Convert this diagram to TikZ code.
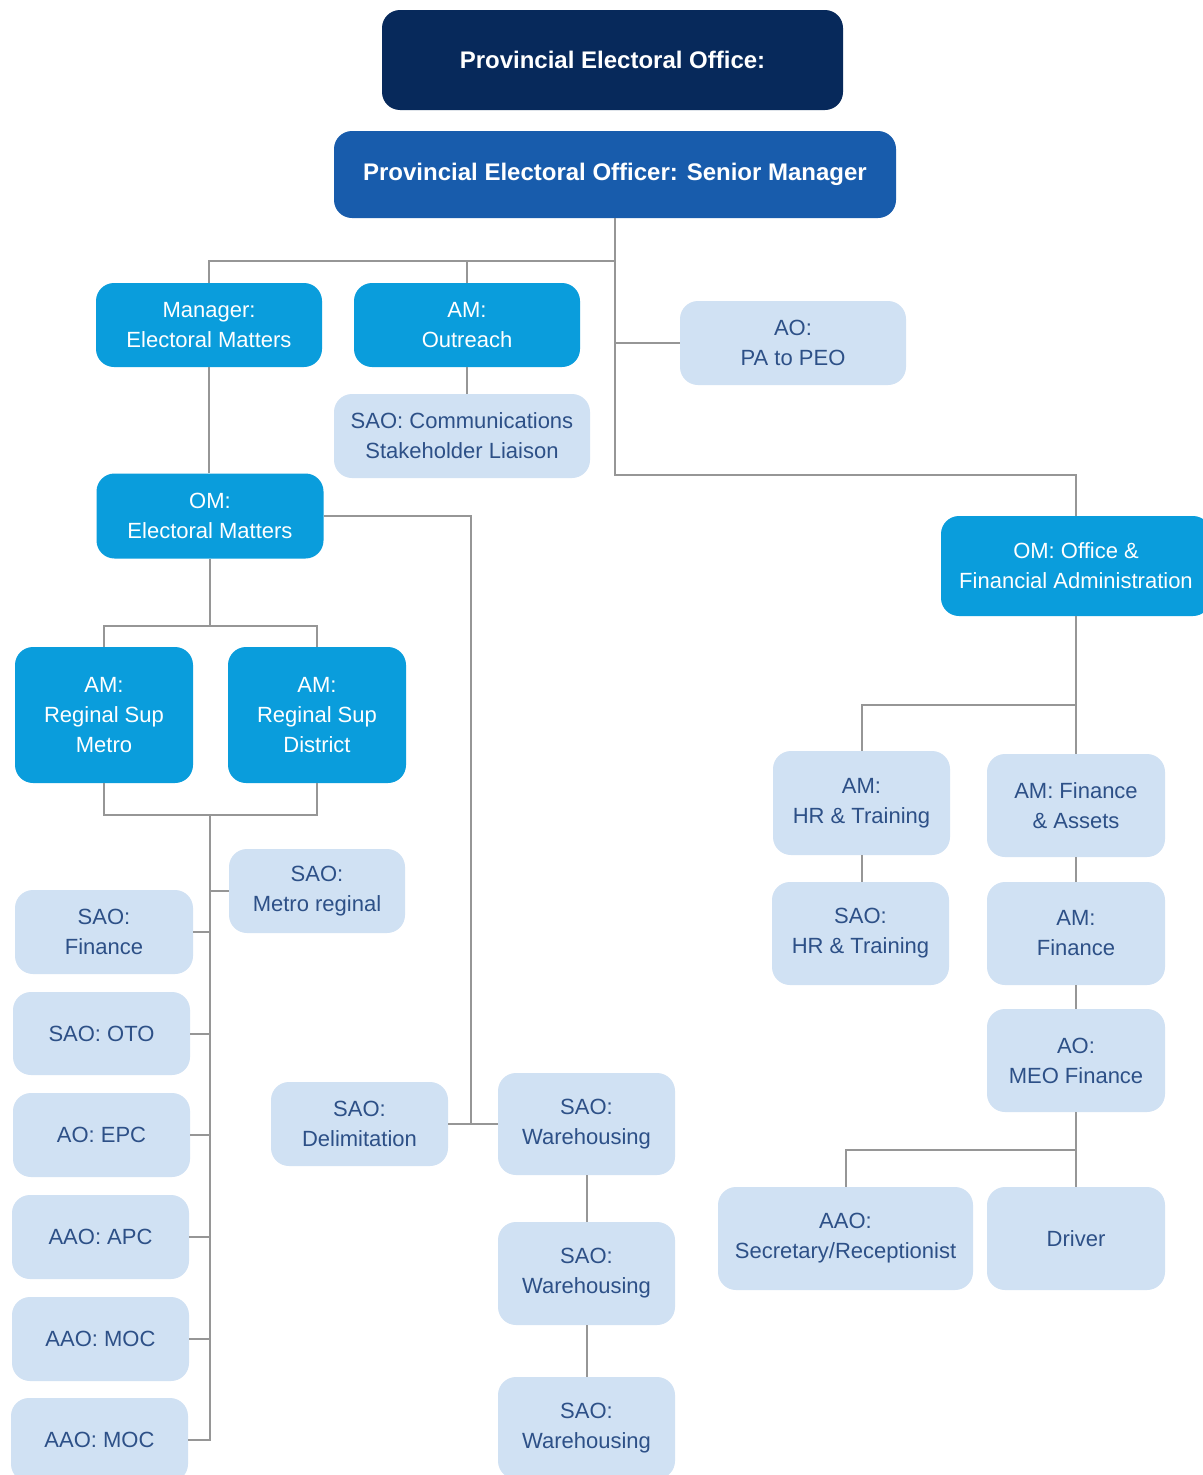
\documentclass[tikz,border=0pt]{standalone}
\usepackage{fontspec}
\setmainfont{Liberation Sans}
\definecolor{navy}{RGB}{7,41,91}
\definecolor{midblue}{RGB}{24,92,172}
\definecolor{bright}{RGB}{10,157,220}
\definecolor{lightbox}{RGB}{208,225,243}
\definecolor{lighttext}{RGB}{45,80,135}
\definecolor{linegray}{RGB}{150,150,150}
\begin{document}
\begin{tikzpicture}[x=1pt,y=-1pt,
  box/.style={rounded corners=18pt, inner sep=0pt, align=center, font=\fontsize{22}{30}\selectfont},
  sz/.style 2 args={minimum width=#1, minimum height=#2},
  navybox/.style={box, fill=navy, text=white, font=\bfseries\fontsize{24}{30}\selectfont},
  midbox/.style={box, fill=midblue, text=white, font=\bfseries\fontsize{24}{30}\selectfont},
  brightbox/.style={box, fill=bright, text=white},
  lbox/.style={box, fill=lightbox, text=lighttext},
  conn/.style={draw=linegray, line width=2pt}]
\useasboundingbox (0,0) rectangle (1202,1475);
\fill[white] (0,0) rectangle (1202,1475);

% top
\node[navybox, sz={461}{100}] (peo) at (612.5,60) {Provincial Electoral Office:};
\node[midbox, sz={562}{87}] (sm) at (615,174.5) {Provincial Electoral Officer: Senior Manager};

% second level
\node[brightbox, sz={226}{84}] (mgr) at (209,325) {Manager:\\Electoral Matters};
\node[brightbox, sz={226}{84}] (amo) at (467,325) {AM:\\Outreach};
\node[lbox, sz={256}{84}] (comm) at (462,436) {SAO: Communications\\Stakeholder Liaison};
\node[lbox, sz={226}{84}] (pa) at (793,343) {AO:\\PA to PEO};
\node[brightbox, sz={227}{85}] (omem) at (210,516) {OM:\\Electoral Matters};
\node[brightbox, sz={270}{100}] (ofa) at (1076,566) {OM: Office \&\\Financial Administration};

% left branch
\node[brightbox, sz={178}{136}] (metro) at (104,715) {AM:\\Reginal Sup\\Metro};
\node[brightbox, sz={178}{136}] (district) at (317,715) {AM:\\Reginal Sup\\District};
\node[lbox, sz={176}{84}] (metroreg) at (317,891) {SAO:\\Metro reginal};
\node[lbox, sz={178}{84}] (saofin) at (104,932) {SAO:\\Finance};
\node[lbox, sz={177}{83}] (oto) at (101.5,1033.5) {SAO: OTO};
\node[lbox, sz={177}{84}] (epc) at (101.5,1135) {AO: EPC};
\node[lbox, sz={177}{84}] (apc) at (100.5,1237) {AAO: APC};
\node[lbox, sz={177}{84}] (moc1) at (100.5,1339) {AAO: MOC};
\node[lbox, sz={177}{84}] (moc2) at (99.5,1440) {AAO: MOC};

% middle branch
\node[lbox, sz={177}{84}] (delim) at (359.5,1124) {SAO:\\Delimitation};
\node[lbox, sz={177}{102}] (wh1) at (586.5,1124) {SAO:\\Warehousing};
\node[lbox, sz={177}{103}] (wh2) at (586.5,1273.5) {SAO:\\Warehousing};
\node[lbox, sz={177}{102}] (wh3) at (586.5,1428) {SAO:\\Warehousing};

% right branch
\node[lbox, sz={177}{104}] (amhr) at (861.5,803) {AM:\\HR \& Training};
\node[lbox, sz={178}{103}] (amfa) at (1076,805.5) {AM: Finance\\\& Assets};
\node[lbox, sz={177}{103}] (saohr) at (860.5,933.5) {SAO:\\HR \& Training};
\node[lbox, sz={178}{103}] (amf) at (1076,933.5) {AM:\\Finance};
\node[lbox, sz={178}{103}] (meo) at (1076,1060.5) {AO:\\MEO Finance};
\node[lbox, sz={255}{103}] (aao) at (845.5,1238.5) {AAO:\\Secretary/Receptionist};
\node[lbox, sz={178}{103}] (driver) at (1076,1238.5) {Driver};

% junction points
\coordinate (j1) at (615,261);
\coordinate (jofa) at (1076,475);
\coordinate (jdel) at (471,1124);
\coordinate (jreg) at (210,626);
\coordinate (jbot) at (210,815);
\coordinate (jhr) at (1076,705);
\coordinate (jdrv) at (1076,1150);

% connectors
\draw[conn] (sm.south) |- (jofa) -- (ofa.north);
\draw[conn] (j1) -| (mgr.north);
\draw[conn] (j1) -| (amo.north);
\draw[conn] (pa.west) -- (pa.west -| sm.south);
\draw[conn] (amo.south) -- (amo.south |- comm.north);
\draw[conn] (mgr.south) -- (mgr.south |- omem.north);
\draw[conn] (omem.east) -| (jdel);
\draw[conn] (delim.east) -- (wh1.west);
\draw[conn] (omem.south) -- (jreg);
\draw[conn] (metro.north) |- (jreg) -| (district.north);
\draw[conn] (metro.south) |- (jbot) -| (district.south);
\draw[conn] (jbot) |- (moc2.east);
\draw[conn] (metroreg.west) -- (metroreg.west -| jbot);
\draw[conn] (saofin.east) -- (saofin.east -| jbot);
\draw[conn] (oto.east) -- (oto.east -| jbot);
\draw[conn] (epc.east) -- (epc.east -| jbot);
\draw[conn] (apc.east) -- (apc.east -| jbot);
\draw[conn] (moc1.east) -- (moc1.east -| jbot);
\draw[conn] (wh1.south) -- (wh2.north);
\draw[conn] (wh2.south) -- (wh3.north);
\draw[conn] (ofa.south) -- (jhr) -- (amfa.north);
\draw[conn] (amhr.north) |- (jhr);
\draw[conn] (amhr.south) -- (amhr.south |- saohr.north);
\draw[conn] (amfa.south) -- (amf.north);
\draw[conn] (amf.south) -- (meo.north);
\draw[conn] (meo.south) -- (jdrv) -- (driver.north);
\draw[conn] (aao.north) |- (jdrv);
\end{tikzpicture}
\end{document}
